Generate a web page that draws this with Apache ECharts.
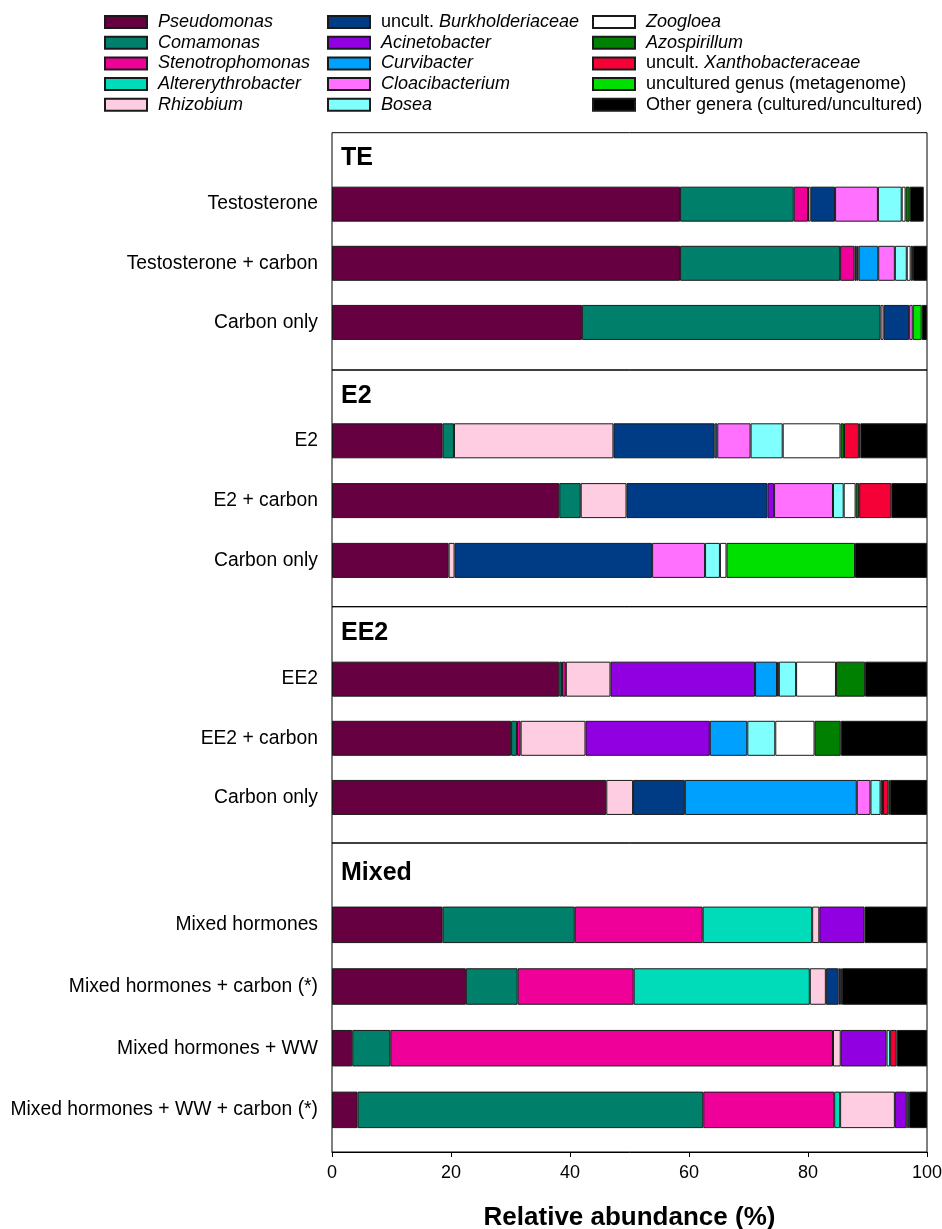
<!DOCTYPE html>
<html>
<head>
<meta charset="utf-8">
<title>Relative abundance of bacterial genera</title>
<script src="https://cdn.jsdelivr.net/npm/echarts@6/dist/echarts.min.js"></script>
<style>
  html, body { margin: 0; padding: 0; background: #fff; }
  #chart { width: 942px; height: 1229px; }
</style>
</head>
<body>
<div id="chart"></div>
<script>
// Samples, top to bottom
const samples = [
  'Testosterone', 'Testosterone + carbon', 'Carbon only',
  'E2', 'E2 + carbon', 'Carbon only',
  'EE2', 'EE2 + carbon', 'Carbon only',
  'Mixed hormones', 'Mixed hormones + carbon (*)', 'Mixed hormones + WW', 'Mixed hormones + WW + carbon (*)'
];
// Treatment groups and how many samples each holds
const panelTitles = ['TE', 'E2', 'EE2', 'Mixed'];
const panelCounts = [3, 3, 3, 4];

// Genera in stacking / legend order
const genera = [
  'Pseudomonas', 'Comamonas', 'Stenotrophomonas', 'Altererythrobacter', 'Rhizobium',
  'uncult. Burkholderiaceae', 'Acinetobacter', 'Curvibacter', 'Cloacibacterium', 'Bosea',
  'Zoogloea', 'Azospirillum', 'uncult. Xanthobacteraceae', 'uncultured genus (metagenome)',
  'Other genera (cultured/uncultured)'
];
const generaColors = [
  '#660040', '#00806b', '#ee0099', '#00dcb9', '#ffcde1',
  '#003c85', '#9000e0', '#00a0ff', '#ff70ff', '#80ffff',
  '#ffffff', '#008000', '#f50037', '#00e000', '#000000'
];

// Relative abundance (%) per genus, one value per sample (same order as samples)
const pseudomonas      = [58.5, 58.5, 42.0, 18.6, 38.2, 19.6, 38.2, 30.1, 46.1, 18.6, 22.5, 3.4, 4.3];
const comamonas        = [19.1, 26.9, 50.2, 1.9, 3.6, 0, 0.45, 1.0, 0, 22.2, 8.7, 6.4, 58.1];
const stenotrophomonas = [2.4, 2.4, 0, 0, 0, 0, 0.65, 0.6, 0, 21.5, 19.5, 74.4, 22.0];
const altererythrobacter = [0, 0, 0, 0, 0, 0, 0, 0, 0, 18.4, 29.6, 0, 1.0];
const rhizobium        = [0.45, 0, 0.5, 26.8, 7.7, 1.0, 7.5, 10.9, 4.5, 1.2, 2.7, 1.3, 9.2];
const burkholderiaceae = [4.1, 0.4, 4.3, 17.0, 23.7, 33.2, 0, 0, 8.7, 0, 2.1, 0, 0];
const acinetobacter    = [0, 0.3, 0, 0, 1.1, 0, 24.3, 20.9, 0, 7.6, 0.3, 7.7, 2.0];
const curvibacter      = [0, 3.3, 0, 0.45, 0, 0, 3.7, 6.3, 28.9, 0, 0.3, 0, 0.4];
const cloacibacterium  = [7.2, 2.8, 0.6, 5.6, 9.9, 8.9, 0.3, 0, 2.3, 0, 0, 0, 0];
const bosea            = [4.0, 2.0, 0, 5.4, 1.8, 2.5, 2.9, 4.7, 1.7, 0, 0, 0.6, 0];
const zoogloea         = [0.65, 0.65, 0, 9.7, 2.0, 1.1, 6.7, 6.6, 0, 0, 0, 0, 0];
const azospirillum     = [0.7, 0.4, 0, 0.6, 0.6, 0, 4.9, 4.4, 0.4, 0, 0, 0, 0];
const xanthobacteraceae = [0, 0, 0, 2.5, 5.4, 0, 0, 0, 0.9, 0, 0, 1.1, 0];
const unculturedGenus  = [0, 0, 1.5, 0.25, 0, 21.6, 0, 0, 0.3, 0, 0, 0, 0];
const otherGenera      = [2.35, 2.35, 0.9, 11.2, 6.0, 12.1, 10.4, 14.5, 6.2, 10.5, 14.3, 5.1, 3.0];

const generaValues = [
  pseudomonas, comamonas, stenotrophomonas, altererythrobacter, rhizobium,
  burkholderiaceae, acinetobacter, curvibacter, cloacibacterium, bosea,
  zoogloea, azospirillum, xanthobacteraceae, unculturedGenus, otherGenera
];

const xTicks = [0, 20, 40, 60, 80, 100];

// ---- layout (pixels) ----
const FONT = '"Liberation Sans", Arial, Helvetica, sans-serif';
const plotLeft = 332, plotWidth = 595;
// outer panel frames: [top, height]
const panelBoxes = [[132.7, 237.3], [370, 236.7], [606.7, 236.3], [843, 309]];
// bar rows inside each panel: [top, height]
const barBoxes = [[174.6, 177.4], [410.9, 179.4], [649.6, 177.4], [894, 246.7]];
const barThickness = [35, 35, 35, 36.5];
const headerCenters = [158.5, 396, 633.5, 873];

const italicNames = ['Pseudomonas', 'Comamonas', 'Stenotrophomonas', 'Altererythrobacter', 'Rhizobium',
  'Acinetobacter', 'Curvibacter', 'Cloacibacterium', 'Bosea', 'Zoogloea', 'Azospirillum'];

function legendLabel(name) {
  if (italicNames.indexOf(name) >= 0) return '{pi|' + name + '}';
  if (name.indexOf('uncult. ') === 0) return '{pn|uncult. }{i|' + name.slice(8) + '}';
  return '{pn|' + name + '}';
}

const legendText = { fontFamily: FONT, fontSize: 18, lineHeight: 20, color: '#000' };
const legendRich = {
  i:  Object.assign({}, legendText, { fontStyle: 'italic' }),
  pi: Object.assign({}, legendText, { fontStyle: 'italic', padding: [0, 0, 0, 6] }),
  pn: Object.assign({}, legendText, { padding: [0, 0, 0, 6] })
};
const legendColumns = [[104, genera.slice(0, 5)], [327, genera.slice(5, 10)], [592, genera.slice(10, 15)]];

const grids = [], xAxes = [], yAxes = [], series = [], graphics = [];

// panel frames (grid 0..3)
panelBoxes.forEach(function (b, p) {
  const last = p === panelBoxes.length - 1;
  grids.push({ left: plotLeft, top: b[0], width: plotWidth, height: b[1], show: true,
    borderColor: '#000', borderWidth: 1, backgroundColor: 'transparent',
    containLabel: false, outerBoundsMode: 'none' });
  xAxes.push({
    type: 'value', gridIndex: p, min: 0, max: 100, interval: 20, show: last,
    position: 'bottom',
    axisLine: { show: true, lineStyle: { color: '#000', width: 1 } },
    axisTick: { show: true, inside: false, length: 5, lineStyle: { color: '#000' } },
    axisLabel: { fontFamily: FONT, fontSize: 18, color: '#000', margin: 12,
      formatter: function (v) { return xTicks.indexOf(v) >= 0 ? String(v) : ''; } },
    splitLine: { show: false },
    name: last ? 'Relative abundance (%)' : '',
    nameLocation: 'middle', nameGap: 53,
    nameTextStyle: { fontFamily: FONT, fontSize: 26, fontWeight: 'bold', color: '#000' }
  });
  yAxes.push({ type: 'value', gridIndex: p, show: false, min: 0, max: 1 });
});

// bar rows (grid 4..7)
let start = 0;
panelCounts.forEach(function (count, p) {
  const g = panelBoxes.length + p;
  const cats = samples.slice(start, start + count);
  grids.push({ left: plotLeft, top: barBoxes[p][0], width: plotWidth, height: barBoxes[p][1], show: false,
    containLabel: false, outerBoundsMode: 'none' });
  xAxes.push({ type: 'value', gridIndex: g, min: 0, max: 100, show: false });
  yAxes.push({
    type: 'category', gridIndex: g, data: cats, inverse: true,
    axisLine: { show: false }, axisTick: { show: false },
    axisLabel: { fontFamily: FONT, fontSize: 19.3, color: '#000', margin: 14 }
  });
  genera.forEach(function (name, k) {
    series.push({
      type: 'bar', name: name, stack: 'panel' + p,
      xAxisIndex: g, yAxisIndex: g,
      barWidth: barThickness[p],
      data: generaValues[k].slice(start, start + count).map(function (v) { return v > 0 ? v : null; }),
      itemStyle: { color: generaColors[k], borderColor: '#1a1a1a', borderWidth: 1 },
      emphasis: { disabled: true },
      animation: false
    });
  });
  graphics.push({
    type: 'text', x: plotLeft + 9, y: headerCenters[p],
    style: { text: panelTitles[p], fontFamily: FONT, fontSize: 25, fontWeight: 'bold',
      fill: '#000', verticalAlign: 'middle', align: 'left' }
  });
  start += count;
});

const legends = legendColumns.map(function (col) {
  return {
    orient: 'vertical', left: col[0], top: 12, padding: 0,
    itemWidth: 42, itemHeight: 12, itemGap: 0.7, icon: 'rect',
    selectedMode: false, data: col[1],
    formatter: legendLabel,
    textStyle: Object.assign({ rich: legendRich }, legendText)
  };
});

const chart = echarts.init(document.getElementById('chart'), null, { renderer: 'canvas' });
chart.setOption({
  backgroundColor: '#fff',
  animation: false,
  legend: legends,
  grid: grids,
  xAxis: xAxes,
  yAxis: yAxes,
  series: series,
  graphic: graphics
});
</script>
</body>
</html>
